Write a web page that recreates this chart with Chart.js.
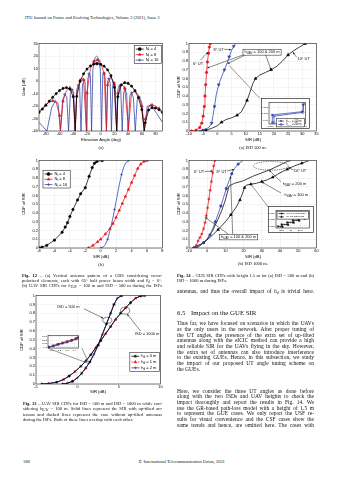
<!DOCTYPE html>
<html>
<head>
<meta charset="utf-8">
<title>ITU J-FET p.188 - Figs. 12-14</title>
<script src="https://cdn.jsdelivr.net/npm/chart.js@4.4.1/dist/chart.umd.min.js"></script>
<style>
  html, body { margin: 0; padding: 0; background: #fff; }
  body { position: relative; width: 339px; height: 480px; overflow: hidden;
         font-family: 'Liberation Serif', 'DejaVu Serif', serif; color: #111; }
  canvas { position: absolute; }
  .t  { position: absolute; white-space: nowrap; line-height: 1; transform: translateY(-50%); }
  .c  { position: absolute; white-space: nowrap; line-height: 1; transform: translate(-50%, -50%); }
  .yt { position: absolute; white-space: nowrap; line-height: 1; transform: translate(-50%, -50%) rotate(-90deg); }
  .ax { font-family: 'Liberation Sans', Arial, sans-serif; font-size: 4.2px; color: #000; }
  .cap { font-size: 4.6px; }
  .body { font-size: 5.5px; }
  .sec { font-size: 6.8px; }
  .cp { font-family: 'DejaVu Sans', sans-serif; font-variant-emoji: text; }
  sub { font-size: 70%; vertical-align: -0.3em; line-height: 0; }
</style>
</head>
<body>

<div class="t" style="left:25px;top:17.5px;font-size:4.4px">ITU Journal on Future and Evolving Technologies, Volume 2 (2021), Issue 2</div>

<!-- Fig. 12 (a) -->
<canvas id="cvPattern"></canvas>
<div class="yt ax" style="left:24px;top:87px">Gain [dB]</div>
<div class="c ax" style="left:101px;top:139.8px">Elevation Angle (deg)</div>
<div class="c cap" style="left:101px;top:148px">(a)</div>

<!-- Fig. 14 (a) -->
<canvas id="cvGue500"></canvas>
<canvas id="cvGue500In"></canvas>
<div class="yt ax" style="left:179px;top:87px">CDF of SIR</div>
<div class="c ax" style="left:253px;top:139.5px">SIR (dB)</div>
<div class="c cap" style="left:253px;top:148px">(a) ISD 500 m.</div>

<!-- Fig. 12 (b) -->
<canvas id="cvNt"></canvas>
<div class="yt ax" style="left:24px;top:204px">CDF of SIR</div>
<div class="c ax" style="left:101px;top:256.5px">SIR (dB)</div>
<div class="c cap" style="left:101px;top:265px">(b)</div>

<!-- Fig. 14 (b) -->
<canvas id="cvGue1000"></canvas>
<canvas id="cvGue1000In"></canvas>
<div class="yt ax" style="left:179px;top:204px">CDF of SIR</div>
<div class="c ax" style="left:253px;top:256.5px">SIR (dB)</div>
<div class="c cap" style="left:253px;top:264px">(b) ISD 1000 m.</div>

<!-- captions row -->
<div class="t cap" data-w="140" style="left:22px;top:276px"><b>Fig. 12</b> – (a) Vertical antenna pattern of a GBS considering cross-</div>
<div class="t cap" data-w="140" style="left:22px;top:281px">polarized elements, each with 65° half power beam width and <i>θ</i><sub>d</sub> = 6°.</div>
<div class="t cap" data-w="140" style="left:22px;top:286px">(b) UAV SIR CDFs for <i>h</i><sub>UAV</sub> = 100 m and ISD = 500 m during the ISFs</div>

<div class="t cap" data-w="137" style="left:177px;top:276px"><b>Fig. 14</b> – GUE SIR CDFs with height 1.5 m for (a) ISD = 500 m and (b)</div>
<div class="t cap" style="left:177px;top:281px">ISD = 1000 m during ISFs.</div>

<!-- Fig. 13 -->
<canvas id="cvHd"></canvas>
<canvas id="cvHdIn"></canvas>
<div class="yt ax" style="left:22px;top:340px">CDF of SIR</div>
<div class="c ax" style="left:98px;top:392px">SIR (dB)</div>

<div class="t cap" data-w="139" style="left:23px;top:403.5px"><b>Fig. 13</b> – UAV SIR CDFs for ISD = 500 m and ISD = 1000 m while con-</div>
<div class="t cap" data-w="139" style="left:23px;top:409px">sidering <i>h</i><sub>UAV</sub> = 100 m. Solid lines represent the SIR with up-tilted an-</div>
<div class="t cap" data-w="139" style="left:23px;top:414.5px">tennas and dashed lines represent the case without up-tilted antennas</div>
<div class="t cap" style="left:23px;top:420px">during the ISFs. Both of these lines overlap with each other.</div>

<!-- right column text -->
<div class="t body" data-w="137" style="left:177px;top:292px">antennas, and thus the overall impact of <i>h</i><sub>d</sub> is trivial here.</div>
<div class="t sec" style="left:177px;top:313px">6.5</div>
<div class="t sec" style="left:191px;top:313px">Impact on the GUE SIR</div>

<div class="t body" data-w="137" style="left:177px;top:324.3px">Thus far, we have focused on scenarios in which the UAVs</div>
<div class="t body" data-w="137" style="left:177px;top:330px">as the only users in the network. After proper tuning of</div>
<div class="t body" data-w="137" style="left:177px;top:335.6px">the UT angles, the presence of the extra set of up-tilted</div>
<div class="t body" data-w="137" style="left:177px;top:341.3px">antennas along with the eICIC method can provide a high</div>
<div class="t body" data-w="137" style="left:177px;top:347px">and reliable SIR for the UAVs flying in the sky. However,</div>
<div class="t body" data-w="137" style="left:177px;top:352.6px">the extra set of antennas can also introduce interference</div>
<div class="t body" data-w="137" style="left:177px;top:358.3px">to the existing GUEs. Hence, in this subsection, we study</div>
<div class="t body" data-w="137" style="left:177px;top:364px">the impact of our proposed UT angle tuning scheme on</div>
<div class="t body" style="left:177px;top:369.6px">the GUEs.</div>

<div class="t body" data-w="137" style="left:177px;top:391.7px">Here, we consider the three UT angles as done before</div>
<div class="t body" data-w="137" style="left:177px;top:397.4px">along with the two ISDs and UAV heights to check the</div>
<div class="t body" data-w="137" style="left:177px;top:403px">impact thoroughly and report the results in Fig. 14. We</div>
<div class="t body" data-w="137" style="left:177px;top:408.7px">use the GR-based path-loss model with a height of 1.5 m</div>
<div class="t body" data-w="137" style="left:177px;top:414.4px">to represent the GUE cases. We only report the USF re-</div>
<div class="t body" data-w="137" style="left:177px;top:420px">sults for visual convenience and the CSF cases show the</div>
<div class="t body" data-w="137" style="left:177px;top:425.7px">same trends and hence, are omitted here. The cases with</div>

<div class="t" style="left:23px;top:462px;font-size:4.4px">188</div>
<div class="t" style="left:138px;top:462px;font-size:4.4px"><span class="cp">&#169;&#xFE0E;</span> International Telecommunication Union, 2021</div>

<script>
// ---------- Fig. 12(a): vertical antenna pattern ----------
const angN4 = [-90,-85,-80,-75,-70,-65,-60,-55,-50,-45,-40,-37.2,-35,-30,-25,-20,-15,-10,-6,-5,0,5,10,15,20,23.3,25,30,35,40,45,50,55,60,63.6,65,70,75,80,85,90];
const gainN4 = [-25.2,-22.4,-19.4,-16.1,-13.0,-10.1,-7.6,-5.9,-5.3,-6.4,-12.5,-40,-12.3,-0.2,5.8,9.6,12.1,13.5,13.9,13.9,13.4,11.9,9.0,4.3,-5.0,-40,-12.6,-3.1,-1.3,-1.9,-4.1,-7.7,-13.3,-22.9,-40,-33.4,-23.2,-21.3,-21.6,-23.0,-25.2];
const angN8 = [-90,-85,-80,-75,-70,-65,-60,-58.7,-55,-50,-45,-40,-37.2,-35,-30,-27.5,-25,-20.8,-20,-15,-10,-6,-5,0,5,8.4,10,15,20,23.3,25,30,35,40,40.2,45,50,55,60,63.6,65,70,75,80,85,90];
const gainN8 = [-24.2,-21.6,-19.1,-16.9,-15.8,-17.0,-27.5,-40,-16.1,-7.8,-5.3,-9.7,-40,-9.5,0.8,2.1,1.1,-40,-9.5,10.1,15.7,16.9,16.9,14.4,6.0,-40,-3.1,3.6,-2.5,-40,-9.7,-2.1,-5.5,-34.3,-40,-9.5,-8.0,-11.3,-20.1,-40,-30.4,-20.5,-19.2,-20.0,-21.9,-24.2];
const angN16 = [-90,-78.4,-71.5,-66.5,-62.3,-58.7,-55.4,-52.4,-49.5,-46.9,-44.3,-41.8,-39.5,-37.2,-35.0,-32.8,-30.7,-28.7,-26.6,-24.6,-22.7,-20.8,-18.9,-17.0,-15.1,-13.3,-11.4,-9.6,-7.8,-6.0,-4.2,-2.4,-0.6,1.2,3.0,4.8,6.6,8.4,10.2,12.0,13.8,15.7,17.6,19.5,21.4,23.3,25.3,27.3,29.3,31.4,33.5,35.7,37.9,40.2,42.6,45.1,47.7,50.4,53.3,56.4,59.8,63.6,67.9,73.3,81.6,90];
const gainN16 = [-33.1,-40,-21.3,-16.2,-17.6,-40,-14.9,-10.7,-12.7,-40,-10.7,-6.8,-8.9,-40,-7.1,-3.2,-5.2,-40,-3.3,0.8,-1.1,-40,1.4,5.9,4.6,-40,9.3,15.9,19.0,19.9,19.1,16.1,9.6,-40,5.2,6.6,2.3,-40,0.0,2.1,-1.8,-40,-3.4,-1.2,-4.9,-40,-6.3,-3.9,-7.6,-40,-8.9,-6.6,-10.3,-40,-11.7,-9.4,-13.2,-40,-15.0,-13.0,-17.2,-40,-20.2,-19.3,-25.9,-33.1];
const elevTicks = [-80,-60,-40,-20,0,20,40,60,80];
const gainTicks = [-40,-30,-20,-10,0,10,20,30];

// ---------- Fig. 12(b): UAV SIR CDF vs N_t ----------
const sirNt4 = [-7.9,-7.6,-7.0,-6.0,-5.0,-4.6,-4.3,-4.0,-3.6,-3.0,-2.6,-2.0,-1.5,-1.1,-0.8,-0.5,0.2];
const cdfNt4 = [0,0.01,0.03,0.09,0.18,0.24,0.29,0.36,0.44,0.55,0.62,0.69,0.82,0.92,0.97,0.99,1.0];
const sirNt8 = [-1.6,-1.0,-0.4,0,0.6,1.2,1.6,2.0,2.4,2.8,3.2,3.6,4.0,4.4,4.8,5.2,5.6,6.0];
const cdfNt8 = [0,0.03,0.07,0.1,0.16,0.22,0.28,0.35,0.43,0.51,0.59,0.67,0.75,0.83,0.91,0.96,0.99,1.0];
const sirNt16 = [0,0.3,0.6,0.9,1.2,1.5,1.8,2.1,2.4,2.7,3.0,3.3,3.6];
const cdfNt16 = [0,0.01,0.04,0.1,0.2,0.31,0.44,0.58,0.72,0.84,0.93,0.98,1.0];
const ntTicks = [-8,-6,-4,-2,0,2,4,6,8];
const cdfTicks = [0,0.1,0.2,0.3,0.4,0.5,0.6,0.7,0.8,0.9,1];

// ---------- Fig. 14(a): GUE SIR, ISD 500 m ----------
const sir500Ut6 = [-9.1,-7.5,-6.2,-5.5,-5.0,-4.6,-4.35,-4.1,-3.8,-3.5,-3.1,-2.8,-2.5];
const cdf500Ut6 = [0,0.01,0.04,0.09,0.17,0.28,0.40,0.53,0.67,0.79,0.89,0.96,1.0];
const sir500Ut8 = [-7,-5,-3,-2,-1.5,-1.0,-0.4,0.5,1.5,2.5,3.5,4.2,5.0,5.8,6.5];
const cdf500Ut8 = [0,0.01,0.04,0.09,0.18,0.28,0.41,0.53,0.62,0.7,0.78,0.85,0.92,0.97,1.0];
const sir500Ut10 = [-6,-4,-2,0,1.5,3,5,7,8.5,9.5,10.5,11.5,12.5,13.5,15,17,19,21,23,25,27,29,31];
const cdf500Ut10 = [0,0.01,0.03,0.06,0.1,0.13,0.15,0.18,0.22,0.28,0.35,0.44,0.54,0.6,0.64,0.67,0.7,0.74,0.8,0.87,0.92,0.96,1.0];
const gue500Ticks = [-10,-5,0,5,10,15,20,25,30,35];
// zoomed inset of the 8 deg UT curves
const inSir100 = [0.8792,0.8792,0.8828,0.8829];
const inCdf100 = [0.6096,0.6108,0.6113,0.6124];
const inSir200 = [0.8794,0.8794,0.8829,0.8830];
const inCdf200 = [0.6096,0.6106,0.6112,0.6125];
const inSirTicks = [0.879,0.88,0.881,0.882,0.883];
const inCdfTicks = [0.61,0.611,0.612];

// ---------- Fig. 14(b): GUE SIR, ISD 1000 m ----------
const sir1kUt6 = [-7.5,-6,-5,-4,-3,-2,-1.2,-0.5,0.2,0.9,1.6,2.3,3.0,3.6,4.2];
const cdf1kUt6 = [0,0.03,0.08,0.12,0.16,0.22,0.29,0.37,0.46,0.56,0.66,0.76,0.86,0.94,1.0];
const sir1kUt8 = [-7,-5,-2,0,1.5,3,4.5,6,7.5,9,10.5,12,13.5,15,17,19.5];
const cdf1kUt8 = [0,0.02,0.06,0.1,0.15,0.22,0.3,0.39,0.48,0.58,0.68,0.77,0.85,0.91,0.96,1.0];
const sir1kUt10h100 = [-7.5,-5,-2,2,6,10,13,16,18,19.5,20.5,21.5,24,27,30,33,36,40,44,48,52,56];
const cdf1kUt10h100 = [0,0.01,0.06,0.13,0.21,0.3,0.38,0.47,0.55,0.63,0.69,0.72,0.73,0.74,0.76,0.78,0.81,0.86,0.9,0.94,0.97,1.0];
const sir1kUt10h200 = [-8,-6,-3,0,3,6,8,10,11,12,15,20,25,30,35,40,44,46];
const cdf1kUt10h200 = [0,0.02,0.05,0.1,0.2,0.33,0.43,0.55,0.63,0.71,0.74,0.77,0.82,0.86,0.9,0.95,0.99,1.0];
const gue1kTicks = [-10,0,10,20,30,40,50,60];
// zoomed inset of the 10 deg UT plateau
const inSirNoUt = [28.3,28.5,28.5,28.8,28.8,29.1,29.1,29.4,29.4,29.7,29.7,29.85];
const inCdfNoUt = [0.7178,0.7178,0.7188,0.7188,0.7198,0.7198,0.7208,0.7208,0.7218,0.7218,0.7232,0.7245];
const inSirUt = [28.3,28.55,28.55,28.85,28.85,29.15,29.15,29.45,29.45,29.75,29.75,29.9];
const inCdfUt = [0.7176,0.7176,0.7186,0.7186,0.7196,0.7196,0.7206,0.7206,0.7216,0.7216,0.7230,0.7243];
const in1kSirTicks = [28.5,29,29.5];
const in1kCdfTicks = [0.718,0.721,0.724];

// ---------- Fig. 13: UAV SIR CDF vs h_d ----------
const sirIsd500 = [-1.8,-1.2,-0.6,0,0.5,1.0,1.5,2.0,2.5,3.0,3.5,4.0,4.4,4.8,5.3];
const cdfIsd500 = [0,0.01,0.03,0.07,0.12,0.18,0.25,0.34,0.44,0.56,0.68,0.8,0.9,0.97,1.0];
const sirIsd1000 = [-4.3,-3.5,-2.5,-1.7,-1.0,-0.3,0.4,1.0,1.6,2.2,2.8,3.4,4.0,4.6,5.2,5.8,6.4,7.0,7.6,8.1];
const cdfIsd1000 = [0,0.005,0.02,0.05,0.09,0.14,0.2,0.26,0.33,0.41,0.49,0.57,0.65,0.73,0.8,0.86,0.92,0.97,0.995,1.0];
const hdTicks = [-5,0,5,10];
// zoomed inset near CDF 0.1
const inSirHd = [0.06,0.12,0.18,0.24,0.3,0.36,0.42,0.45];
const inCdfHd0 = [0.100,0.104,0.108,0.112,0.116,0.120,0.125,0.128];
const inCdfHd1 = [0.100,0.103,0.107,0.111,0.115,0.119,0.124,0.127];
const inCdfHd2 = [0.099,0.102,0.106,0.110,0.113,0.117,0.122,0.125];
const inHdSirTicks = [0.1,0.2,0.3,0.4];
const inHdCdfTicks = [0.1,0.11,0.12,0.13];

// ---------- styling helpers ----------
const SANS = "'Liberation Sans', Arial, sans-serif";
const RED = '#e3161b', BLUE = '#2c3fa8', BLACK = '#000';

function series(xs, ys, color, o = {}) {
  return {
    data: xs.map((x, i) => ({ x, y: ys[i] })),
    showLine: true,
    borderColor: color,
    backgroundColor: color,
    borderWidth: o.w || 0.75,
    borderDash: o.dash || [],
    pointStyle: o.mark || 'circle',
    pointRotation: o.rot || 0,
    pointBackgroundColor: o.hollow ? 'rgba(0,0,0,0)' : color,
    pointBorderColor: color,
    pointBorderWidth: 0.6,
    pointRadius: (c) => {
      if (!o.every) return 0;
      if (o.floor !== undefined && c.raw && c.raw.y <= o.floor) return 0;
      return c.index % o.every === (o.off || 0) ? (o.r || 1.4) : 0;
    },
    tension: 0,
  };
}

function richParts(str) {
  const out = [];
  const re = /_\{([^}]*)\}/g;
  let last = 0, m;
  while ((m = re.exec(str))) {
    if (m.index > last) out.push({ s: str.slice(last, m.index) });
    out.push({ s: m[1], sub: true });
    last = re.lastIndex;
  }
  if (last < str.length) out.push({ s: str.slice(last) });
  return out;
}

function drawRich(ctx, str, x, y, size, align, measureOnly) {
  const parts = richParts(str);
  let w = 0;
  parts.forEach((p) => {
    ctx.font = (p.sub ? size * 0.72 : size) + 'px ' + SANS;
    p.w = ctx.measureText(p.s).width;
    w += p.w;
  });
  if (measureOnly) return w;
  let cx = align === 'center' ? x - w / 2 : align === 'right' ? x - w : x;
  ctx.textBaseline = 'middle';
  ctx.textAlign = 'left';
  parts.forEach((p) => {
    ctx.font = (p.sub ? size * 0.72 : size) + 'px ' + SANS;
    ctx.fillText(p.s, cx, p.sub ? y + size * 0.3 : y);
    cx += p.w;
  });
  return w;
}

// white background / outer box for insets
const bgPlugin = {
  id: 'bg',
  beforeDraw(chart, args, o) {
    if (!o.fill) return;
    const { ctx, chartArea: a } = chart;
    ctx.save();
    ctx.fillStyle = '#fff';
    if (o.fill === 'area') ctx.fillRect(a.left, a.top, a.right - a.left, a.bottom - a.top);
    else ctx.fillRect(0, 0, chart.width, chart.height);
    ctx.restore();
  },
  afterDraw(chart, args, o) {
    if (!o.outline) return;
    const { ctx } = chart;
    ctx.save();
    ctx.strokeStyle = '#000';
    ctx.lineWidth = 0.6;
    ctx.strokeRect(0.5, 0.5, chart.width - 1, chart.height - 1);
    ctx.restore();
  },
};

// MATLAB-style axes box
const framePlugin = {
  id: 'frame',
  afterDraw(chart) {
    const { ctx, chartArea: a } = chart;
    ctx.save();
    ctx.strokeStyle = '#222';
    ctx.lineWidth = 0.6;
    ctx.strokeRect(a.left, a.top, a.right - a.left, a.bottom - a.top);
    ctx.restore();
  },
};

// arrows, ellipses and labels placed in data coordinates
const notesPlugin = {
  id: 'notes',
  afterDraw(chart, args, o) {
    const items = o.items || [];
    if (!items.length) return;
    const { ctx } = chart;
    const sx = chart.scales.x, sy = chart.scales.y;
    const px = (v) => sx.getPixelForValue(v), py = (v) => sy.getPixelForValue(v);
    ctx.save();
    ctx.lineWidth = 0.5;
    items.forEach((it) => {
      ctx.strokeStyle = it.color || '#111';
      ctx.fillStyle = it.color || '#111';
      if (it.t === 'line' || it.t === 'arrow') {
        const x1 = px(it.a[0]), y1 = py(it.a[1]), x2 = px(it.b[0]), y2 = py(it.b[1]);
        ctx.beginPath(); ctx.moveTo(x1, y1); ctx.lineTo(x2, y2); ctx.stroke();
        if (it.t === 'arrow') {
          const ang = Math.atan2(y2 - y1, x2 - x1), h = 2.2;
          ctx.beginPath();
          ctx.moveTo(x2, y2);
          ctx.lineTo(x2 - h * Math.cos(ang - 0.45), y2 - h * Math.sin(ang - 0.45));
          ctx.lineTo(x2 - h * Math.cos(ang + 0.45), y2 - h * Math.sin(ang + 0.45));
          ctx.closePath(); ctx.fill();
        }
      } else if (it.t === 'ellipse') {
        ctx.setLineDash(it.dash ? [1.4, 0.9] : []);
        const cx = px(it.c[0]), cy = py(it.c[1]);
        ctx.beginPath();
        ctx.ellipse(cx, cy, Math.abs(px(it.c[0] + it.r[0]) - cx), Math.abs(py(it.c[1] + it.r[1]) - cy), 0, 0, Math.PI * 2);
        ctx.stroke();
        ctx.setLineDash([]);
      } else if (it.t === 'text' || it.t === 'box') {
        const size = it.size || 4;
        const x = px(it.c[0]), y = py(it.c[1]);
        if (it.t === 'box') {
          const w = drawRich(ctx, it.s, x, y, size, 'center', true);
          ctx.fillStyle = '#fff';
          ctx.fillRect(x - w / 2 - 1.5, y - 2.8, w + 3, 5.6);
          ctx.strokeRect(x - w / 2 - 1.5, y - 2.8, w + 3, 5.6);
          ctx.fillStyle = '#111';
        }
        drawRich(ctx, it.s, x, y, size, 'center');
      }
    });
    ctx.restore();
  },
};

// legend box drawn inside the axes
const keyPlugin = {
  id: 'key',
  afterDraw(chart, args, o) {
    if (!o.items) return;
    const { ctx, chartArea: a } = chart;
    const size = o.size || 4, rowH = o.rowH || 5.5, sw = o.sw || 9;
    ctx.save();
    let tw = 0;
    o.items.forEach((it) => { tw = Math.max(tw, drawRich(ctx, it.s, 0, 0, size, 'left', true)); });
    const w = sw + 4 + tw + 2.5, h = rowH * o.items.length + 1.5;
    const x0 = o.side === 'left' ? a.left + o.dx : a.right - o.dx - w;
    const y0 = a.top + o.dy;
    ctx.fillStyle = '#fff';
    ctx.fillRect(x0, y0, w, h);
    ctx.strokeStyle = '#000';
    ctx.lineWidth = 0.5;
    ctx.strokeRect(x0, y0, w, h);
    o.items.forEach((it, i) => {
      const ds = chart.data.datasets[it.ds];
      const cy = y0 + 0.75 + rowH * (i + 0.5);
      ctx.strokeStyle = ds.borderColor;
      ctx.lineWidth = ds.borderWidth;
      ctx.setLineDash(ds.borderDash || []);
      ctx.beginPath(); ctx.moveTo(x0 + 1.5, cy); ctx.lineTo(x0 + 1.5 + sw, cy); ctx.stroke();
      ctx.setLineDash([]);
      ctx.fillStyle = ds.pointBackgroundColor;
      ctx.lineWidth = 0.6;
      if (Chart.helpers && Chart.helpers.drawPoint) {
        Chart.helpers.drawPoint(ctx, { pointStyle: ds.pointStyle, radius: o.mr || 1.5, borderWidth: 0.6, rotation: ds.pointRotation || 0 }, x0 + 1.5 + sw / 2, cy);
      }
      ctx.fillStyle = '#000';
      drawRich(ctx, it.s, x0 + sw + 3.5, cy, size, 'left');
    });
    ctx.restore();
  },
};

function mount(id, box, pad) {
  const cv = document.getElementById(id);
  const [L, T, R, B] = box;
  cv.width = R - L + pad.l + pad.r;
  cv.height = B - T + pad.t + pad.b;
  cv.style.left = (L - pad.l) + 'px';
  cv.style.top = (T - pad.t) + 'px';
  return cv;
}

function axis(range, ticks, isX, pad, fs) {
  return {
    type: 'linear',
    min: range[0],
    max: range[1],
    afterBuildTicks: (s) => { s.ticks = ticks.map((v) => ({ value: v })); },
    afterFit: (s) => {
      if (isX) s.height = pad.b; else s.width = pad.l;
      s.paddingLeft = 0; s.paddingRight = 0; s.paddingTop = 0; s.paddingBottom = 0;
    },
    ticks: {
      color: '#000',
      font: { size: fs, family: SANS },
      padding: isX ? 0.8 : 1.2,
      maxRotation: 0,
      autoSkip: false,
      callback: (v) => String(v),
    },
    grid: { color: '#d6d6d6', lineWidth: 0.5, drawTicks: false },
    border: { display: false, dash: [1, 1] },
  };
}

function plot(id, box, pad, cfg) {
  const cv = mount(id, box, pad);
  const fs = cfg.fs || 3.9;
  return new Chart(cv, {
    type: 'scatter',
    data: { datasets: cfg.datasets },
    options: {
      responsive: false,
      animation: false,
      events: [],
      layout: { padding: { left: 0, top: pad.t, right: pad.r, bottom: 0 } },
      scales: {
        x: axis(cfg.xr, cfg.xt, true, pad, fs),
        y: axis(cfg.yr, cfg.yt, false, pad, fs),
      },
      plugins: {
        legend: { display: false },
        tooltip: { enabled: false },
        bg: cfg.bg || {},
        key: cfg.key || {},
        notes: { items: cfg.notes || [] },
      },
    },
    plugins: [bgPlugin, framePlugin, notesPlugin, keyPlugin],
  });
}

const PAD = { l: 20, t: 4, r: 4, b: 10 };

// ---------- Fig. 12(a) ----------
plot('cvPattern', [39, 43, 163, 131], PAD, {
  xr: [-90, 90], yr: [-40, 30], xt: elevTicks, yt: gainTicks,
  datasets: [
    series(angN4, gainN4, BLACK, { mark: 'circle', every: 1, floor: -39, r: 1.1 }),
    series(angN8, gainN8, RED, { mark: 'triangle', every: 2, floor: -39, r: 1.5 }),
    series(angN16, gainN16, BLUE, { mark: 'cross', every: 4, off: 3, floor: -39, r: 1.6 }),
  ],
  key: { side: 'right', dx: 1, dy: 2, size: 4, rowH: 5.5, sw: 8,
         items: [{ ds: 0, s: 'N_{t} = 4' }, { ds: 1, s: 'N_{t} = 8' }, { ds: 2, s: 'N_{t} = 16' }] },
});

// ---------- Fig. 14(a) ----------
plot('cvGue500', [189, 43, 317, 131], PAD, {
  xr: [-10, 35], yr: [0, 1], xt: gue500Ticks, yt: cdfTicks,
  datasets: [
    series(sir500Ut6, cdf500Ut6, RED, { mark: 'circle', every: 1, r: 1.2 }),
    series(sir500Ut8, cdf500Ut8, BLUE, { mark: 'triangle', rot: 180, every: 2, off: 1, r: 1.6 }),
    series(sir500Ut10, cdf500Ut10, BLACK, { mark: 'triangle', every: 3, off: 1, r: 1.6 }),
  ],
  notes: [
    { t: 'text', c: [-6.8, 0.77], s: '6° UT' },
    { t: 'arrow', a: [-6.0, 0.81], b: [-3.3, 0.9] },
    { t: 'text', c: [0.5, 0.93], s: '8° UT' },
    { t: 'arrow', a: [2.4, 0.935], b: [4.9, 0.93] },
    { t: 'arrow', a: [9.5, 0.875], b: [-3.6, 0.72] },
    { t: 'arrow', a: [10.2, 0.875], b: [3.6, 0.77] },
    { t: 'arrow', a: [17.0, 0.875], b: [19.0, 0.7] },
    { t: 'box', c: [15.8, 0.9], s: 'h_{UAV} = 100 & 200 m' },
    { t: 'text', c: [30.5, 0.82], s: '10° UT' },
    { t: 'arrow', a: [28.0, 0.845], b: [26.7, 0.9] },
    { t: 'line', a: [4.2, 0.75], b: [15.0, 0.375], color: '#333' },
  ],
});

plot('cvGue500In', [269, 100, 309, 124], { l: 8, t: 2, r: 1, b: 5 }, {
  xr: [0.8788, 0.8832], yr: [0.6094, 0.6127], xt: inSirTicks, yt: inCdfTicks, fs: 2.5,
  bg: { fill: 'all', outline: true },
  datasets: [
    series(inSir100, inCdf100, BLUE, { mark: 'star', every: 1, r: 1.2, w: 0.7 }),
    series(inSir200, inCdf200, BLUE, { mark: 'circle', hollow: true, every: 1, r: 1.1, w: 0.7 }),
  ],
  key: { side: 'right', dx: 1, dy: 16, size: 2.6, rowH: 3.4, sw: 6, mr: 1,
         items: [{ ds: 0, s: 'h_{UAV} = 100 m' }, { ds: 1, s: 'h_{UAV} = 200 m' }] },
});

// ---------- Fig. 12(b) ----------
plot('cvNt', [39, 160, 163, 248], PAD, {
  xr: [-8, 8], yr: [0, 1], xt: ntTicks, yt: cdfTicks,
  datasets: [
    series(sirNt4, cdfNt4, BLACK, { mark: 'circle', every: 1, r: 1.2 }),
    series(sirNt8, cdfNt8, RED, { mark: 'triangle', every: 1, r: 1.5 }),
    series(sirNt16, cdfNt16, BLUE, { mark: 'cross', every: 3, r: 1.4 }),
  ],
  key: { side: 'left', dx: 4, dy: 10, size: 4, rowH: 5.3, sw: 8,
         items: [{ ds: 0, s: 'N_{t} = 4' }, { ds: 1, s: 'N_{t} = 8' }, { ds: 2, s: 'N_{t} = 16' }] },
});

// ---------- Fig. 14(b) ----------
plot('cvGue1000', [189, 160, 317, 248], PAD, {
  xr: [-10, 60], yr: [0, 1], xt: gue1kTicks, yt: cdfTicks,
  datasets: [
    series(sir1kUt6, cdf1kUt6, RED, { mark: 'star', every: 1, r: 1.4 }),
    series(sir1kUt8, cdf1kUt8, BLUE, { mark: 'circle', every: 2, r: 1.2 }),
    series(sir1kUt10h100, cdf1kUt10h100, BLACK, { mark: 'triangle', every: 2, r: 1.5 }),
    series(sir1kUt10h200, cdf1kUt10h200, BLACK, {}),
  ],
  notes: [
    { t: 'text', c: [-4.5, 0.87], s: '6° UT' },
    { t: 'arrow', a: [-1.4, 0.875], b: [3.0, 0.88] },
    { t: 'text', c: [7.9, 0.87], s: '8° UT' },
    { t: 'arrow', a: [10.9, 0.88], b: [14.7, 0.9] },
    { t: 'ellipse', c: [34.9, 0.94], r: [9.6, 0.05], dash: true },
    { t: 'text', c: [51, 0.885], s: '10° UT' },
    { t: 'arrow', a: [47.4, 0.89], b: [44.6, 0.925] },
    { t: 'text', c: [48, 0.735], s: 'h_{UAV} = 200 m' },
    { t: 'arrow', a: [40.5, 0.76], b: [34, 0.89] },
    { t: 'text', c: [49, 0.61], s: 'h_{UAV} = 100 m' },
    { t: 'arrow', a: [40.5, 0.63], b: [30, 0.755] },
    { t: 'line', a: [24, 0.73], b: [33.5, 0.47], color: '#333' },
    { t: 'arrow', a: [11.5, 0.16], b: [-1.0, 0.35] },
    { t: 'arrow', a: [14.0, 0.16], b: [12.8, 0.82] },
    { t: 'box', c: [17.3, 0.125], s: 'h_{UAV} = 100 & 200 m' },
  ],
});

plot('cvGue1000In', [276, 208, 313, 228], { l: 8, t: 2, r: 1, b: 5 }, {
  xr: [28.2, 30.0], yr: [0.717, 0.7255], xt: in1kSirTicks, yt: in1kCdfTicks, fs: 2.5,
  bg: { fill: 'all', outline: true },
  datasets: [
    series(inSirNoUt, inCdfNoUt, BLACK, { mark: 'cross', every: 2, r: 1.1, w: 0.7 }),
    series(inSirUt, inCdfUt, BLACK, { mark: 'triangle', every: 2, off: 1, r: 1.1, w: 0.7, dash: [1.2, 0.8] }),
  ],
  key: { side: 'right', dx: 1, dy: 0.6, size: 2.5, rowH: 3.2, sw: 6, mr: 1,
         items: [{ ds: 0, s: 'w/o UT antennas' }, { ds: 1, s: 'w/ UT antennas' }] },
});

// ---------- Fig. 13 ----------
plot('cvHd', [36, 295, 161, 384], PAD, {
  xr: [-5, 10], yr: [0, 1], xt: hdTicks, yt: cdfTicks,
  datasets: [
    series(sirIsd500, cdfIsd500, BLACK, { mark: 'star', every: 2, r: 1.5 }),
    series(sirIsd500, cdfIsd500, BLUE, { mark: 'cross', every: 2, off: 1, r: 1.5 }),
    series(sirIsd500, cdfIsd500, RED, { mark: 'triangle', every: 3, off: 2, r: 1.4, dash: [2, 1.2] }),
    series(sirIsd1000, cdfIsd1000, BLACK, { mark: 'star', every: 2, r: 1.5 }),
    series(sirIsd1000, cdfIsd1000, BLUE, { mark: 'cross', every: 3, off: 1, r: 1.5 }),
    series(sirIsd1000, cdfIsd1000, RED, { mark: 'triangle', every: 2, off: 1, r: 1.4, dash: [2, 1.2] }),
  ],
  notes: [
    { t: 'text', c: [-1.1, 0.87], s: 'ISD = 500 m' },
    { t: 'arrow', a: [0.8, 0.85], b: [3.1, 0.745] },
    { t: 'ellipse', c: [3.6, 0.72], r: [0.55, 0.035] },
    { t: 'ellipse', c: [5.75, 0.83], r: [0.55, 0.04] },
    { t: 'text', c: [8.4, 0.57], s: 'ISD = 1000 m' },
    { t: 'arrow', a: [7.6, 0.6], b: [6.0, 0.79] },
    { t: 'line', a: [-3.56, 0.404], b: [1.4, 0.23], color: '#333' },
    { t: 'line', a: [0.54, 0.404], b: [1.4, 0.23], color: '#333' },
  ],
  key: { side: 'right', dx: 1, dy: 57, size: 4, rowH: 5.8, sw: 8,
         items: [{ ds: 0, s: 'h_{d} = 0 m' }, { ds: 5, s: 'h_{d} = 1 m' }, { ds: 1, s: 'h_{d} = 2 m' }] },
});

plot('cvHdIn', [48, 332, 82, 348], { l: 10, t: 1, r: 1, b: 5 }, {
  xr: [0.05, 0.45], yr: [0.097, 0.133], xt: inHdSirTicks, yt: inHdCdfTicks, fs: 2.5,
  bg: { fill: 'area' },
  datasets: [
    series(inSirHd, inCdfHd2, BLUE, { mark: 'cross', every: 1, r: 1.1, w: 0.7 }),
    series(inSirHd, inCdfHd1, RED, { mark: 'triangle', every: 1, r: 1.1, w: 0.7, dash: [1.2, 0.8] }),
    series(inSirHd, inCdfHd0, BLACK, { mark: 'star', every: 1, r: 1.2, w: 0.7 }),
  ],
});

// ---------- justify the text lines to their column width ----------
document.querySelectorAll('[data-w]').forEach((el) => {
  const target = +el.dataset.w;
  const natural = el.getBoundingClientRect().width;
  const gaps = (el.textContent.match(/ /g) || []).length;
  if (gaps) el.style.wordSpacing = ((target - natural) / gaps) + 'px';
});
</script>
</body>
</html>
